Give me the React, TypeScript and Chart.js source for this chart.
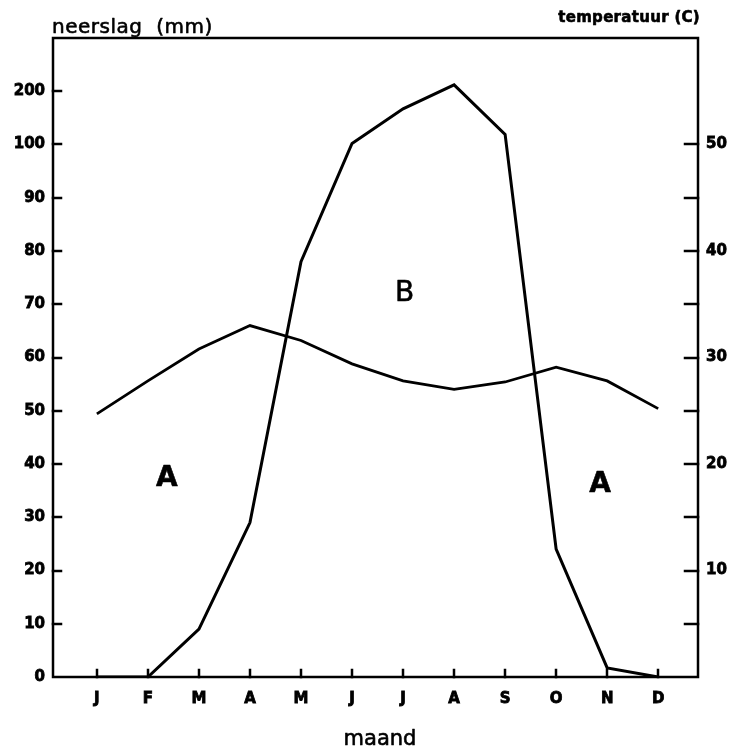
import { useEffect, useRef } from "react";
import { Chart, registerables } from "chart.js";

Chart.register(...registerables);

const months = ["J", "F", "M", "A", "M", "J", "J", "A", "S", "O", "N", "D"];
const precipitationMm = [0, 0, 9, 29, 78, 102, 167, 212, 119, 24, 1.7, 0];
const temperatureC = [24.7, 27.8, 30.8, 33.0, 31.6, 29.4, 27.8, 27.0, 27.7, 29.1, 27.8, 25.2];
const precipTicks = [0, 10, 20, 30, 40, 50, 60, 70, 80, 90, 100, 200];
const tempTicks = [5, 10, 15, 20, 25, 30, 35, 40, 45, 50];
const tempLabelled = [10, 20, 30, 40, 50];
const zoneLabels = [
  { text: "A", month: 1.37, mm: 37.2 },
  { text: "B", month: 6.03, mm: 72 },
  { text: "A", month: 9.86, mm: 36.2 },
];

// Walter-Lieth style axis: above 100 mm the scale is compressed tenfold
const toPos = (mm: number) => (mm <= 100 ? mm : 100 + (mm - 100) / 10);

const FONT = "'DejaVu Sans', sans-serif";

const framePlugin = {
  id: "frameAndText",
  afterDraw(chart: any) {
    const { ctx, chartArea: a, scales } = chart;
    const x = scales.x;
    const y = scales.y;
    const y2 = scales.y2;
    ctx.save();
    ctx.strokeStyle = "#000";
    ctx.lineWidth = 2.5;
    ctx.lineCap = "square";
    ctx.strokeRect(a.left, a.top, a.right - a.left, a.bottom - a.top);
    ctx.beginPath();
    precipTicks.forEach((v) => {
      if (v === 0) return;
      const py = Math.round(y.getPixelForValue(toPos(v)));
      ctx.moveTo(a.left, py);
      ctx.lineTo(a.left + 8, py);
    });
    months.forEach((_, i) => {
      const px = Math.round(x.getPixelForValue(i));
      ctx.moveTo(px, a.bottom);
      ctx.lineTo(px, a.bottom - 7);
    });
    tempTicks.forEach((v) => {
      const py = Math.round(y2.getPixelForValue(v));
      ctx.moveTo(a.right - 13, py);
      ctx.lineTo(a.right, py);
    });
    ctx.stroke();

    ctx.fillStyle = "#000";
    ctx.lineWidth = 0.6;
    ctx.lineJoin = "round";
    const text = (s: string, tx: number, ty: number) => {
      ctx.fillText(s, tx, ty);
      ctx.strokeText(s, tx, ty);
    };
    ctx.textBaseline = "alphabetic";
    ctx.textAlign = "left";
    (ctx as any).letterSpacing = "0.5px";
    ctx.font = `20px ${FONT}`;
    text("neerslag  (mm)", a.left - 1, a.top - 5);
    (ctx as any).letterSpacing = "0.3px";
    ctx.font = `bold 15px ${FONT}`;
    ctx.textAlign = "right";
    text("temperatuur (C)", a.right + 2, 22);
    (ctx as any).letterSpacing = "0px";
    ctx.textAlign = "center";
    ctx.font = `21px ${FONT}`;
    text("maand", 380, 745);

    ctx.textBaseline = "middle";
    zoneLabels.forEach((z) => {
      ctx.font = z.text === "A" ? `bold 28px ${FONT}` : `28px ${FONT}`;
      text(z.text, x.getPixelForValue(z.month), y.getPixelForValue(toPos(z.mm)));
    });
    ctx.restore();
  },
};

const tickFont = (size: number) => ({ family: FONT, size, weight: "bold" });

export default function App() {
  const ref = useRef<HTMLCanvasElement | null>(null);
  useEffect(() => {
    if (!ref.current) return;
    const chart = new Chart(ref.current, {
      type: "line",
      data: {
        datasets: [
          {
            label: "neerslag",
            data: precipitationMm.map((v, i) => ({ x: i, y: toPos(v) })),
            yAxisID: "y",
            borderColor: "#000",
            borderWidth: 3,
            pointRadius: 0,
            tension: 0,
          },
          {
            label: "temperatuur",
            data: temperatureC.map((v, i) => ({ x: i, y: v })),
            yAxisID: "y2",
            borderColor: "#000",
            borderWidth: 2.8,
            pointRadius: 0,
            tension: 0,
          },
        ],
      },
      options: {
        responsive: false,
        animation: false,
        events: [],
        layout: { padding: { top: 38, left: 0, right: 0, bottom: 0 } },
        plugins: { legend: { display: false }, tooltip: { enabled: false } },
        scales: {
          x: {
            type: "linear",
            min: -0.86,
            max: 11.78,
            grid: { display: false, drawTicks: false },
            border: { display: false },
            afterBuildTicks: (s: any) => {
              s.ticks = months.map((_, i) => ({ value: i }));
            },
            afterFit: (s: any) => {
              s.height = 74;
            },
            ticks: {
              autoSkip: false,
              maxRotation: 0,
              padding: 13,
              color: "#000",
              textStrokeColor: "#000",
              textStrokeWidth: 0.8,
              font: tickFont(15),
              callback: (v: any) => months[Math.round(Number(v))] ?? "",
            },
          },
          y: {
            type: "linear",
            position: "left",
            min: 0,
            max: 120,
            grid: { display: false, drawTicks: false },
            border: { display: false },
            afterBuildTicks: (s: any) => {
              s.ticks = precipTicks.map((v) => ({ value: toPos(v) }));
            },
            afterFit: (s: any) => {
              s.width = 53;
            },
            ticks: {
              autoSkip: false,
              padding: 8,
              color: "#000",
              textStrokeColor: "#000",
              textStrokeWidth: 0.8,
              font: tickFont(15),
              callback: (_v: any, i: number) => String(precipTicks[i]),
            },
          },
          y2: {
            type: "linear",
            position: "right",
            min: 0,
            max: 60,
            grid: { display: false, drawTicks: false },
            border: { display: false },
            afterBuildTicks: (s: any) => {
              s.ticks = tempTicks.map((v) => ({ value: v }));
            },
            afterFit: (s: any) => {
              s.width = 38;
            },
            ticks: {
              autoSkip: false,
              padding: 8,
              color: "#000",
              textStrokeColor: "#000",
              textStrokeWidth: 0.8,
              font: tickFont(15),
              callback: (v: any) => (tempLabelled.includes(Number(v)) ? String(v) : ""),
            },
          },
        },
      },
      plugins: [framePlugin],
    } as any);
    return () => chart.destroy();
  }, []);
  return (
    <div style={{ position: "fixed", left: 0, top: 0, width: 736, height: 751, background: "#fff" }}>
      <canvas ref={ref} width={736} height={751} style={{ display: "block" }} />
    </div>
  );
}
